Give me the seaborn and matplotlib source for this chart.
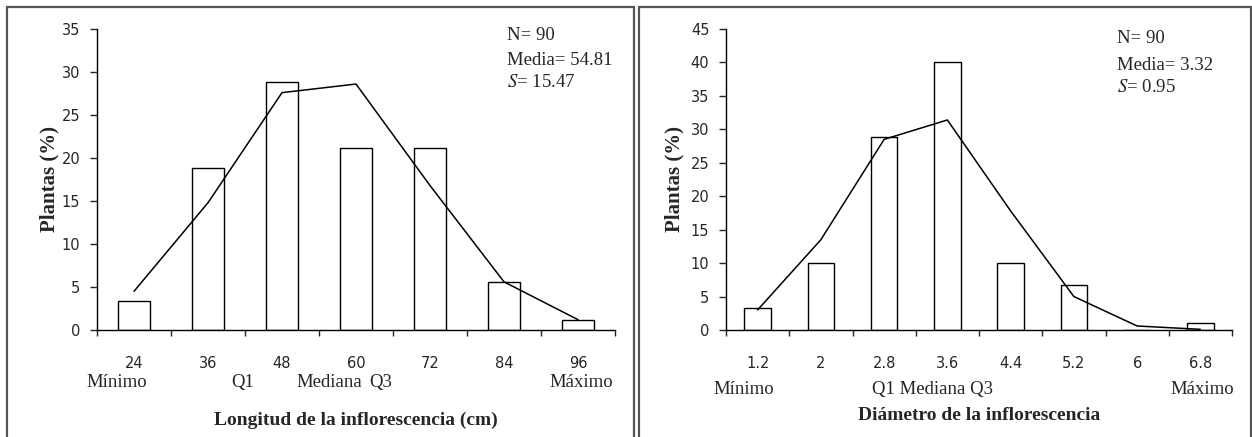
import numpy as np
import pandas as pd
import matplotlib
matplotlib.use("Agg")
import matplotlib.pyplot as plt
import seaborn as sns
from matplotlib.patches import Rectangle

# ---- data ----
long_cats = ["24", "36", "48", "60", "72", "84", "96"]
long_pct = [3.33, 18.89, 28.89, 21.11, 21.11, 5.56, 1.11]
long_curve = [4.5, 14.8, 27.6, 28.6, 16.8, 5.6, 1.2]
long_yticks = [0, 5, 10, 15, 20, 25, 30, 35]
long_stats = ["N= 90", "Media= 54.81", "$\\mathit{S}$= 15.47"]
long_marks = [("Mínimo", -0.23), ("Q1", 1.47), ("Mediana", 2.64), ("Q3", 3.34), ("Máximo", 6.04)]
long_xlabel = "Longitud de la inflorescencia (cm)"

diam_cats = ["1.2", "2", "2.8", "3.6", "4.4", "5.2", "6", "6.8"]
diam_pct = [3.33, 10.0, 28.89, 40.0, 10.0, 6.67, 0.0, 1.11]
diam_curve = [3.0, 13.5, 28.5, 31.4, 17.8, 5.0, 0.6, 0.1]
diam_yticks = [0, 5, 10, 15, 20, 25, 30, 35, 40, 45]
diam_stats = ["N= 90", "Media= 3.32", "$\\mathit{S}$= 0.95"]
diam_marks = [("Mínimo", -0.215), ("Q1 Mediana Q3", 2.77), ("Máximo", 7.03)]
diam_xlabel = "Diámetro de la inflorescencia"

ylabel = "Plantas (%)"

sns.set_style("ticks")
plt.rcParams["font.family"] = ["DejaVu Sans"]
plt.rcParams["mathtext.fontset"] = "stix"

W, H = 1252, 437
fig = plt.figure(figsize=(W / 100, H / 100), dpi=100)

SERIF = "Liberation Serif"


def panel(rect, cats, pct, curve, yticks, stats, stats_pos, marks, marks_y,
          xlabel, xlabel_y, ylabel_x):
    ax = fig.add_axes(rect)
    n = len(cats)
    df = pd.DataFrame({"cat": cats, "pct": pct})
    sns.barplot(data=df, x="cat", y="pct", order=cats, color="white",
                saturation=1, edgecolor="black", linewidth=1.0, width=0.42,
                ax=ax)
    sns.lineplot(x=np.arange(n), y=curve, color="black", linewidth=1.1, ax=ax)
    ax.set_xlim(-0.5, n - 0.5)
    ax.set_ylim(yticks[0], yticks[-1])
    ax.set_yticks(yticks)
    ax.set_xticks(np.arange(n))
    ax.set_xticklabels(cats)
    ax.set_xticks(np.arange(-0.5, n), minor=True)
    ax.tick_params(axis="x", which="major", length=0, pad=18.5, labelsize=10.5)
    ax.tick_params(axis="x", which="minor", length=4.5, width=1, direction="out")
    ax.tick_params(axis="y", length=5, width=1, pad=7, labelsize=10.5)
    for s in ["top", "right"]:
        ax.spines[s].set_visible(False)
    for s in ["left", "bottom"]:
        ax.spines[s].set_linewidth(1.0)
        ax.spines[s].set_color("black")
    ax.set_xlabel(xlabel, family=SERIF, fontweight="bold", fontsize=14)
    ax.xaxis.set_label_coords(0.5, xlabel_y)
    ax.set_ylabel(ylabel, family=SERIF, fontweight="bold", fontsize=15)
    ax.yaxis.set_label_coords(ylabel_x, 0.5)
    sx, sys_ = stats_pos
    for i, t in enumerate(stats):
        ax.text(sx, sys_[i], t, transform=ax.transAxes, ha="left", va="center",
                family=SERIF, fontsize=13.5)
    for t, xp in marks:
        ax.text(xp, marks_y, t, transform=ax.get_xaxis_transform(),
                ha="center", va="center", family=SERIF, fontsize=13.5)
    return ax


panel([97 / W, 1 - 330 / H, 518 / W, 301 / H], long_cats, long_pct, long_curve,
      long_yticks, long_stats, (0.792, [0.980, 0.897, 0.821]), long_marks,
      -0.176, long_xlabel, -0.272, -0.073)
panel([726 / W, 1 - 330 / H, 506 / W, 301 / H], diam_cats, diam_pct, diam_curve,
      diam_yticks, diam_stats, (0.773, [0.967, 0.880, 0.804]), diam_marks,
      -0.199, diam_xlabel, -0.256, -0.082)

# panel frames
for x0, x1 in [(7, 634), (639, 1250.5)]:
    fig.patches.append(Rectangle((x0 / W, -0.1), (x1 - x0) / W, 1.1 - 7 / H,
                                 transform=fig.transFigure, fill=False,
                                 edgecolor="#555555", linewidth=1.6))

fig.savefig("out.png", dpi=100)
